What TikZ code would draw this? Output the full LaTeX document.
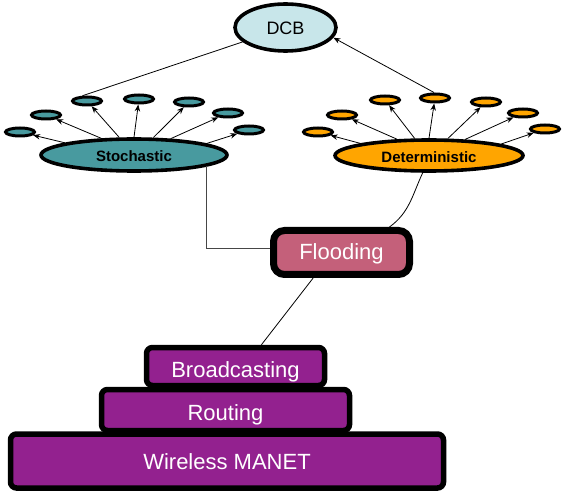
\documentclass[tikz,border=0pt]{standalone}
\usepackage{fontspec}
\setmainfont{Liberation Sans}
\usetikzlibrary{shapes.geometric,arrows.meta}
\definecolor{dcbc}{RGB}{200,230,234}
\definecolor{stochc}{RGB}{72,154,159}
\definecolor{detc}{RGB}{255,165,0}
\definecolor{floodc}{RGB}{196,96,122}
\definecolor{layerc}{RGB}{147,33,143}
\definecolor{connc}{RGB}{70,70,70}
\begin{document}
\begin{tikzpicture}[x=1pt,y=-1pt,
  smallnode/.style={ellipse, draw, line width=3pt, inner sep=0pt, minimum width=29pt, minimum height=8pt},
  bignode/.style={ellipse, draw, line width=3.6pt, inner sep=0pt, text height=13.4pt, text depth=0pt, font=\fontsize{15}{18}\selectfont\bfseries},
  arr/.style={-{Stealth[length=7pt,width=5.5pt]}, line width=0.8pt},
  conn/.style={line width=0.8pt},
  layer/.style={draw, rounded corners=6pt, line width=5.5pt, fill=layerc, text=white, inner sep=0pt, text depth=0pt, font=\fontsize{22}{26}\selectfont}]
\useasboundingbox (0,0) rectangle (563,492);

% top
\node[ellipse, draw, line width=3.6pt, fill=dcbc, minimum width=101pt, minimum height=47pt, inner sep=0pt, text height=15pt, text depth=0pt, font=\fontsize{18}{22}\selectfont] (dcb) at (285.5,27.5) {DCB};

\node[bignode, fill=stochc, minimum width=186pt, minimum height=32pt] (stoch) at (134,155) {Stochastic};
\node[bignode, fill=detc, minimum width=188pt, minimum height=31pt] (det) at (429,155.5) {Deterministic};

\foreach \n/\x/\y in {1/20/132, 2/46/115, 3/87/101, 4/139/99, 5/189/102, 6/228/113, 7/249/130}
  \node[smallnode, fill=stochc] (s\n) at (\x,\y) {};
\foreach \n/\x/\y in {1/318/132, 2/342/115, 3/385/100, 4/435/98, 5/486/102, 6/523/113, 7/545/129}
  \node[smallnode, fill=detc] (d\n) at (\x,\y) {};

\foreach \n/\a in {1/170, 2/153, 3/130, 4/90, 5/42, 6/24, 7/9} {
  \draw[arr] (stoch.\a) -- (s\n);
  \draw[arr] (det.\a) -- (d\n);
}

\draw[conn] (s3.130) -- (dcb);
\draw[arr] (d4.100) -- (dcb.-12);

% flooding
\node[draw, line width=7pt, rounded corners=11pt, fill=floodc, text=white, inner sep=0pt, minimum width=136pt, minimum height=44pt, text height=15pt, text depth=0pt, font=\fontsize{22}{26}\selectfont] (flood) at (341.5,252.5) {Flooding};

\draw[conn, connc] (stoch.-9.6) |- (flood.177);
\draw[conn] (det.-110) to[out=-115, in=36] (flood.28);

% pyramid
\node[layer, minimum width=433pt, minimum height=54pt, text height=16.6pt] (wm) at (227,461) {Wireless MANET};
\node[layer, minimum width=248pt, minimum height=41pt, text height=20pt] (rt) at (225.5,410) {Routing};
\node[layer, minimum width=178pt, minimum height=38pt, text height=21.6pt] (bc) at (235.5,366.5) {Broadcasting};

\draw[conn] (flood.-138) -- (bc.40);
\end{tikzpicture}
\end{document}
